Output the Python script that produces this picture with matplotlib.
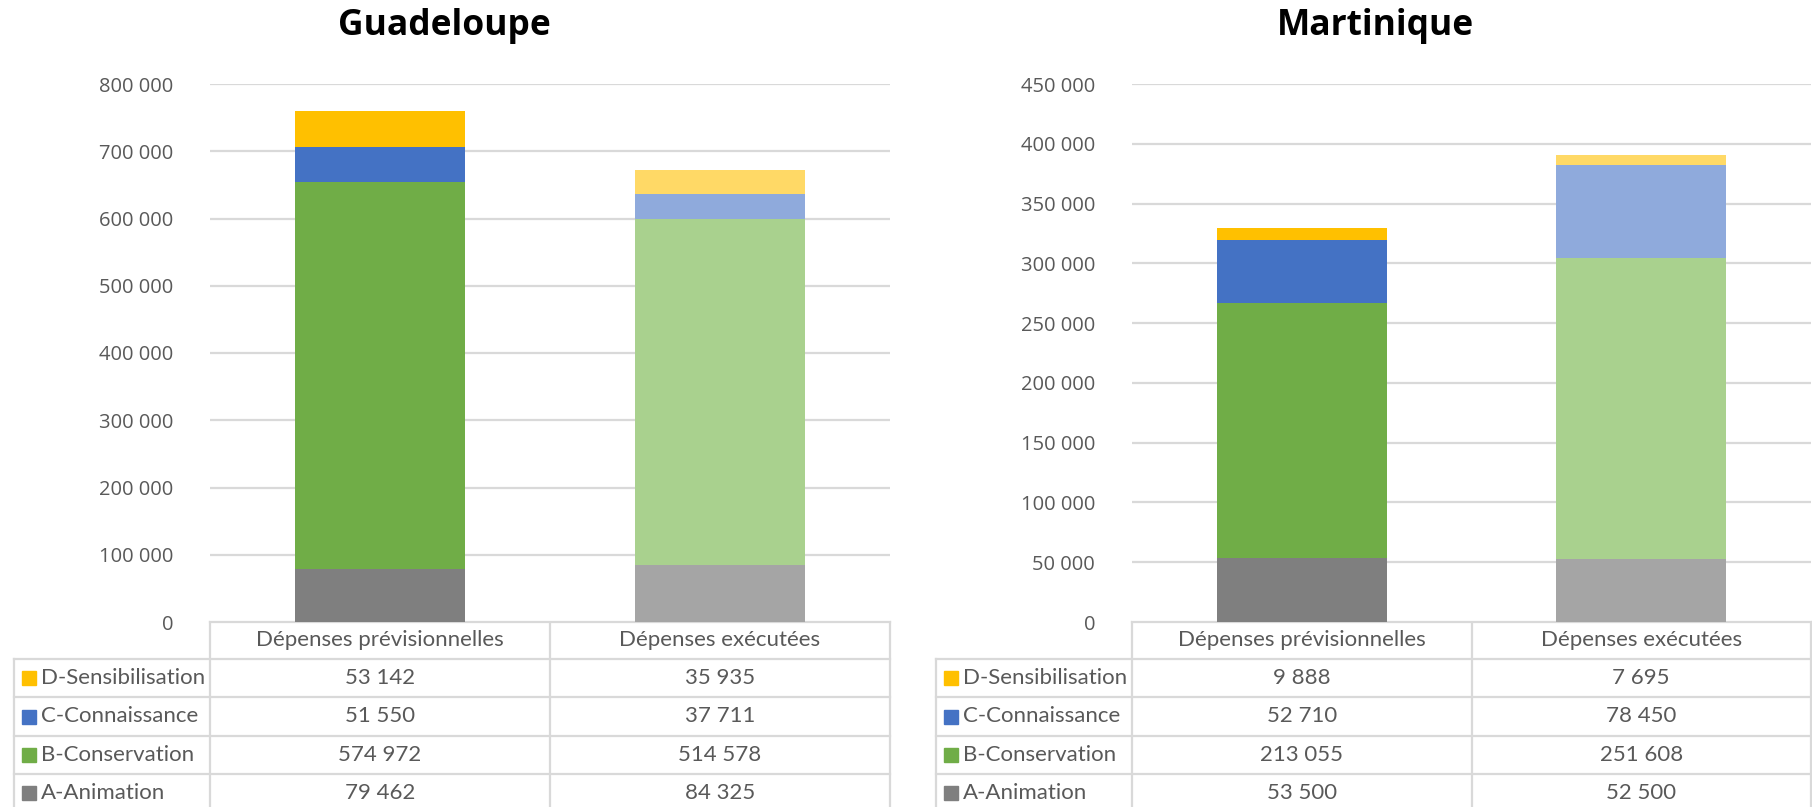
import numpy as np
import matplotlib.pyplot as plt
from matplotlib.ticker import FuncFormatter

W, H = 1812, 807

categories = ["Dépenses prévisionnelles", "Dépenses exécutées"]
series = ["A-Animation", "B-Conservation", "C-Connaissance", "D-Sensibilisation"]

guad_prev = [79462, 574972, 51550, 53142]
guad_exec = [84325, 514578, 37711, 35935]
mart_prev = [53500, 213055, 52710, 9888]
mart_exec = [52500, 251608, 78450, 7695]

dark = ["#7F7F7F", "#70AD47", "#4472C4", "#FFC000"]
light = ["#A5A5A5", "#A9D18E", "#8FAADC", "#FFD966"]
grid_col = "#D9D9D9"
txt_col = "#595959"

tick_font = ["Open Sans", "DejaVu Sans"]
tab_font = ["Lato", "DejaVu Sans"]
tab_size = 16


def fmt(v):
    return f"{int(v):,}".replace(",", " ")


fig = plt.figure(figsize=(W / 100, H / 100), dpi=100)
over = fig.add_axes([0, 0, 1, 1])
over.set_xlim(0, W)
over.set_ylim(H, 0)
over.axis("off")


def panel(title, title_x, prev, exe, ymax, step, lab_left, plot_left, plot_right):
    ax = fig.add_axes([plot_left / W, 1 - 622 / H, (plot_right - plot_left) / W, (622 - 84) / H])
    x = np.arange(len(categories))
    bottoms = np.zeros(2)
    for i in range(len(series)):
        vals = np.array([prev[i], exe[i]])
        ax.bar(x[0], vals[0], 0.5, bottom=bottoms[0], color=dark[i], zorder=3)
        ax.bar(x[1], vals[1], 0.5, bottom=bottoms[1], color=light[i], zorder=3)
        bottoms += vals
    ax.set_xlim(-0.5, 1.5)
    ax.set_ylim(0, ymax)
    ax.set_yticks(np.arange(0, ymax + 1, step))
    ax.yaxis.set_major_formatter(FuncFormatter(lambda v, p: fmt(v)))
    ax.grid(axis="y", color=grid_col, lw=1.6, zorder=0)
    for s in ax.spines.values():
        s.set_visible(False)
    ax.set_xticks([])
    ax.tick_params(axis="y", length=0, pad=26.5, labelsize=14.5, labelcolor=txt_col)
    for t in ax.get_yticklabels():
        t.set_fontfamily(tick_font)

    over.text(title_x, 26, title, ha="center", va="center", fontsize=25.5,
              fontweight="bold", family=["Open Sans", "DejaVu Sans"], color="black")

    # data table below the plot
    mid = (plot_left + plot_right) / 2
    rows = [659, 697, 736, 774, 812]
    lc = dict(color=grid_col, lw=1.6)
    over.plot([plot_left, plot_right], [622, 622], **lc)
    for y in rows:
        over.plot([lab_left, plot_right], [y, y], **lc)
    for xv in (plot_left, mid, plot_right):
        over.plot([xv, xv], [622, H], **lc)
    over.plot([lab_left, lab_left], [659, H], **lc)

    col_centers = [(plot_left + mid) / 2, (mid + plot_right) / 2]
    for j, c in enumerate(categories):
        over.text(col_centers[j], 640, c, ha="center", va="center",
                  fontsize=tab_size, color=txt_col, family=tab_font)
    for r, i in enumerate(reversed(range(len(series)))):
        yc = (rows[r] + rows[r + 1]) / 2
        over.add_patch(plt.Rectangle((lab_left + 8, yc - 7), 14, 14, color=dark[i]))
        over.text(lab_left + 27, yc, series[i], ha="left", va="center",
                  fontsize=tab_size, color=txt_col, family=tab_font)
        over.text(col_centers[0], yc, fmt(prev[i]), ha="center", va="center",
                  fontsize=tab_size, color=txt_col, family=tab_font)
        over.text(col_centers[1], yc, fmt(exe[i]), ha="center", va="center",
                  fontsize=tab_size, color=txt_col, family=tab_font)


panel("Guadeloupe", 444, guad_prev, guad_exec, 800000, 100000, 14, 210, 890)
panel("Martinique", 1375, mart_prev, mart_exec, 450000, 50000, 936, 1132, 1811)

fig.savefig("out.png", dpi=100)
